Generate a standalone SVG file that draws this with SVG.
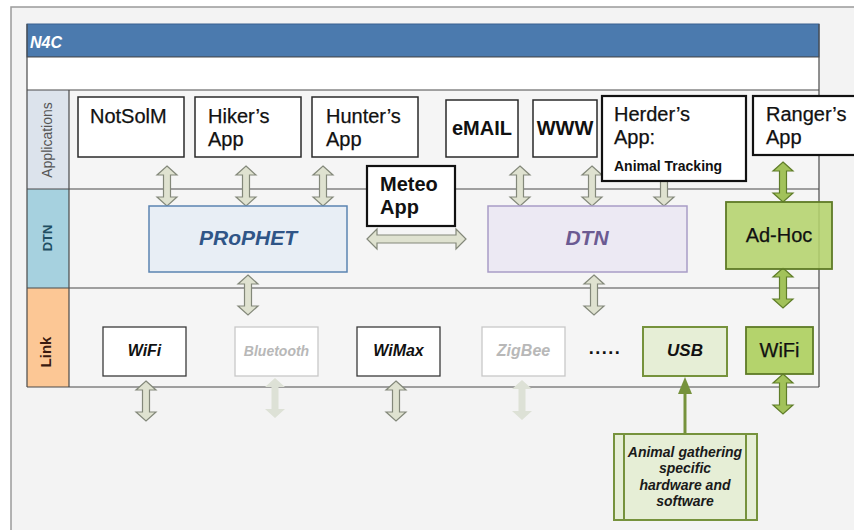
<svg xmlns="http://www.w3.org/2000/svg" xmlns:xlink="http://www.w3.org/1999/xlink" width="854" height="530" viewBox="0 0 854 530">
  <style>
    text { font-family: "Liberation Sans", Arial, sans-serif; }
    .app { fill: #ffffff; stroke: #2a2a2a; stroke-width: 1.5; }
    .appb { fill: #ffffff; stroke: #111111; stroke-width: 2.2; }
    .t20 { font-size: 20px; fill: #111; stroke: #111; stroke-width: 0.25; }
    .t20b { font-size: 20px; fill: #111; font-weight: bold; }
    .lnk { fill: #ffffff; stroke: #3a3a3a; stroke-width: 1.3; }
    .lnkf { fill: #ffffff; stroke: #c8c8c8; stroke-width: 1.3; }
    .bi { font-weight: bold; font-style: italic; }
    .grn { fill: #b4d36c; stroke: #5e7a26; stroke-width: 1.8; }
    .lgrn { fill: #e6eed6; stroke: #76923c; stroke-width: 2; }
    .arr { fill: #dfe2d0; stroke: #83887a; stroke-width: 1.2; }
    .arrf { fill: #dde1d6; stroke: none; }
    .arrg { fill: #a2c25a; stroke: #5f7d28; stroke-width: 1.2; }
    .row { stroke: #4a4a4a; stroke-width: 1.2; fill: none; }
  </style>
  <defs>
    <path id="va" d="M0,-20 L10,-11 L3.5,-11 L3.5,11 L10,11 L0,20 L-10,11 L-3.5,11 L-3.5,-11 L-10,-11 Z"/>
  </defs>

  <!-- background -->
  <rect x="0" y="0" width="854" height="530" fill="#ffffff"/>
  <rect x="11" y="7" width="860" height="540" fill="#f3f3f3" stroke="#9a9a9a" stroke-width="1.5"/>

  <!-- frame -->
  <g id="frame">
    <rect x="27" y="24" width="792" height="363" fill="#f5f5f5"/>
    <rect x="27" y="24" width="792" height="33" fill="#4b7aae" stroke="#3b6190" stroke-width="1"/>
    <text x="30" y="48" class="bi" font-size="16" fill="#ffffff">N4C</text>
    <rect x="27" y="57" width="792" height="33" fill="#ffffff"/>
    <rect x="27" y="90" width="42" height="99" fill="#dce3ec"/>
    <rect x="27" y="189" width="42" height="99" fill="#a6d1df"/>
    <rect x="27" y="288" width="42" height="99" fill="#fcc795"/>
    <path class="row" d="M27,57 H819 M27,90 H819 M27,189 H819 M27,288 H819 M27,387 H819 M27,24 V387 M69,90 V387 M819,24 V387"/>
    <text transform="translate(52,140) rotate(-90)" text-anchor="middle" font-size="14" fill="#555">Applications</text>
    <text transform="translate(52,238) rotate(-90)" text-anchor="middle" font-size="13" font-weight="bold" fill="#1f4e62">DTN</text>
    <text transform="translate(51,352) rotate(-90)" text-anchor="middle" font-size="15" font-weight="bold" fill="#3a1a10">Link</text>
  </g>

  <!-- connectors -->
  <g id="connectors">
    <use xlink:href="#va" class="arr" transform="translate(167,186)"/>
    <use xlink:href="#va" class="arr" transform="translate(246,186)"/>
    <use xlink:href="#va" class="arr" transform="translate(323,186)"/>
    <use xlink:href="#va" class="arr" transform="translate(520,186)"/>
    <use xlink:href="#va" class="arr" transform="translate(592,186)"/>
    <use xlink:href="#va" class="arr" transform="translate(664,186)"/>
    <use xlink:href="#va" class="arr" transform="translate(248,295)"/>
    <use xlink:href="#va" class="arr" transform="translate(594,295)"/>
    <use xlink:href="#va" class="arr" transform="translate(146,401)"/>
    <use xlink:href="#va" class="arrf" transform="translate(275,398)"/>
    <use xlink:href="#va" class="arr" transform="translate(396,401)"/>
    <use xlink:href="#va" class="arrf" transform="translate(522,400)"/>
    <use xlink:href="#va" class="arrg" transform="translate(783,182)"/>
    <use xlink:href="#va" class="arrg" transform="translate(783,288)"/>
    <use xlink:href="#va" class="arrg" transform="translate(783,394)"/>
    <path class="arr" d="M367,239 L377,229 L377,235 L456,235 L456,229 L466,239 L456,249 L456,243 L377,243 L377,249 Z"/>
    <line x1="685" y1="434" x2="685" y2="392" stroke="#76923c" stroke-width="3"/>
    <path d="M685,377 L692,394 L678,394 Z" fill="#76923c"/>
  </g>

  <!-- application nodes -->
  <g id="notsolm">
    <rect class="app" x="78" y="97" width="106" height="60"/>
    <text class="t20" x="90" y="123">NotSolM</text>
  </g>
  <g id="hiker">
    <rect class="app" x="195" y="97" width="106" height="60"/>
    <text class="t20" x="208" y="123">Hiker’s</text>
    <text class="t20" x="208" y="146">App</text>
  </g>
  <g id="hunter">
    <rect class="app" x="312" y="97" width="106" height="60"/>
    <text class="t20" x="326" y="123">Hunter’s</text>
    <text class="t20" x="326" y="146">App</text>
  </g>
  <g id="email">
    <rect class="app" x="446" y="100" width="72" height="57"/>
    <text class="t20b" x="482" y="135" text-anchor="middle">eMAIL</text>
  </g>
  <g id="www">
    <rect class="app" x="533" y="100" width="64" height="57"/>
    <text class="t20b" x="565" y="135" text-anchor="middle">WWW</text>
  </g>
  <g id="herder">
    <rect class="appb" x="602" y="96" width="144" height="85"/>
    <text class="t20" x="614" y="121">Herder’s</text>
    <text class="t20" x="614" y="144">App:</text>
    <text x="614" y="171" font-size="14" font-weight="bold" fill="#111">Animal Tracking</text>
  </g>
  <g id="ranger">
    <rect class="appb" x="753" y="96" width="110" height="59"/>
    <text class="t20" x="766" y="121">Ranger’s</text>
    <text class="t20" x="766" y="144">App</text>
  </g>
  <g id="meteo">
    <rect class="appb" x="367" y="166" width="88" height="60"/>
    <text class="t20b" x="380" y="191">Meteo</text>
    <text class="t20b" x="380" y="214">App</text>
  </g>

  <!-- DTN layer -->
  <g id="prophet">
    <rect x="149" y="206" width="198" height="66" fill="#e8eef5" stroke="#5b84b1" stroke-width="1.5"/>
    <text x="248" y="245" text-anchor="middle" class="bi" font-size="21" fill="#2f5587">PRoPHET</text>
  </g>
  <g id="dtn">
    <rect x="488" y="206" width="199" height="66" fill="#ece9f3" stroke="#a89cc6" stroke-width="1.5"/>
    <text x="587" y="245" text-anchor="middle" class="bi" font-size="21" fill="#6b5b92">DTN</text>
  </g>
  <g id="adhoc">
    <rect class="grn" x="726" y="202" width="106" height="67" fill-opacity="0.88"/>
    <text class="t20" x="779" y="242" text-anchor="middle">Ad-Hoc</text>
  </g>

  <!-- Link layer -->
  <g id="wifi">
    <rect class="lnk" x="103" y="327" width="83" height="49"/>
    <text x="144.5" y="356" text-anchor="middle" class="bi" font-size="16" fill="#111">WiFi</text>
  </g>
  <g id="bluetooth">
    <rect class="lnkf" x="235" y="327" width="83" height="49"/>
    <text x="276.5" y="356" text-anchor="middle" class="bi" font-size="14" fill="#b8b8b8">Bluetooth</text>
  </g>
  <g id="wimax">
    <rect class="lnk" x="357" y="327" width="83" height="49"/>
    <text x="398.5" y="356" text-anchor="middle" class="bi" font-size="16" fill="#111">WiMax</text>
  </g>
  <g id="zigbee">
    <rect class="lnkf" x="482" y="327" width="83" height="49"/>
    <text x="523.5" y="356" text-anchor="middle" class="bi" font-size="16" fill="#b8b8b8">ZigBee</text>
  </g>
  <g id="dots">
    <text x="605" y="354" text-anchor="middle" font-size="18" font-weight="bold" fill="#111" letter-spacing="1.5">.....</text>
  </g>
  <g id="usb">
    <rect class="lgrn" x="643" y="327" width="84" height="49"/>
    <text x="685" y="356" text-anchor="middle" class="bi" font-size="17" fill="#111">USB</text>
  </g>
  <g id="wifi2">
    <rect class="grn" x="746" y="327" width="67" height="47"/>
    <text class="t20" x="779.5" y="357" text-anchor="middle">WiFi</text>
  </g>

  <!-- animal gathering -->
  <g id="animal">
    <rect class="lgrn" x="614" y="434" width="143" height="86"/>
    <path d="M624,434 V520 M746,434 V520" stroke="#76923c" stroke-width="2" fill="none"/>
    <g class="bi" font-size="14" fill="#1a1a1a" text-anchor="middle">
      <text x="685" y="457">Animal gathering</text>
      <text x="685" y="473">specific</text>
      <text x="685" y="490">hardware and</text>
      <text x="685" y="506">software</text>
    </g>
  </g>
</svg>
